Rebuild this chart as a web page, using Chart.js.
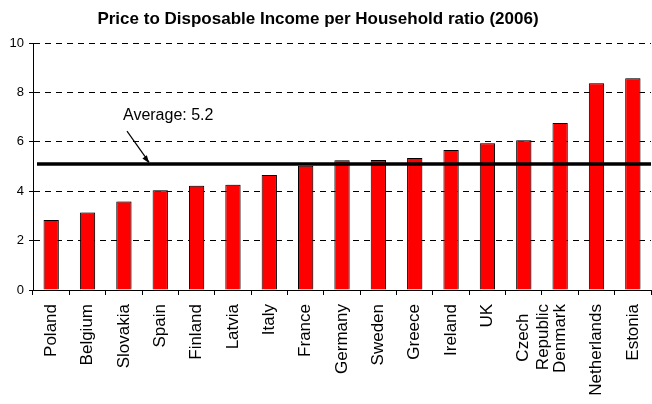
<!DOCTYPE html>
<html lang="en">
  <head>
    <meta charset="UTF-8" />
    <title>Price to Disposable Income per Household ratio (2006)</title>
    <style>
      body {
        margin: 0;
        padding: 0;
        background: #ffffff;
      }
      #ratioChart {
        display: block;
      }
    </style>
    <script src="https://cdn.jsdelivr.net/npm/chart.js"></script>
  </head>
  <body>
    <canvas id="ratioChart" width="652" height="404"></canvas>
    <script>
      // trailing spaces on "Czech" keep it centred against "Republic" once rotated
      const countries = [
        "Poland", "Belgium", "Slovakia", "Spain", "Finland", "Latvia", "Italy",
        "France", "Germany", "Sweden", "Greece", "Ireland", "UK",
        ["Czech  ", "Republic"], "Denmark", "Netherlands", "Estonia",
      ];
      const ratios = [
        2.83, 3.14, 3.58, 4.04, 4.22, 4.26, 4.66, 5.03, 5.25, 5.26, 5.34,
        5.67, 5.94, 6.06, 6.76, 8.37, 8.57,
      ];
      const yTicks = [0, 2, 4, 6, 8, 10];
      const averageLevel = 5.1;
      const averageText = "Average: 5.2";
      const chartTitle = "Price to Disposable Income per Household ratio (2006)";

      const FONT = "'Liberation Sans', Arial, sans-serif";

      // title, average line and its arrow
      const overlay = {
        id: "overlay",
        beforeDatasetsDraw(chart) {
          chart.ctx.save();
          chart.ctx.shadowColor = "rgba(0,0,0,0.2)";
          chart.ctx.shadowOffsetX = 1.5;
          chart.ctx.shadowOffsetY = -1;
        },
        afterDatasetsDraw(chart) {
          chart.ctx.restore();
          const { ctx, chartArea } = chart;
          const y = chart.scales.y.getPixelForValue(averageLevel);
          ctx.save();
          ctx.strokeStyle = "#000";
          ctx.lineWidth = 3.5;
          ctx.beginPath();
          ctx.moveTo(chartArea.left + 4, y);
          ctx.lineTo(chartArea.right, y);
          ctx.stroke();

          // arrow
          const ax = chartArea.left + 116;
          const x0 = ax - 22, y0 = y - 33;
          ctx.lineWidth = 1.2;
          ctx.beginPath();
          ctx.moveTo(x0, y0);
          ctx.lineTo(ax, y - 2);
          ctx.stroke();
          const ang = Math.atan2(y - 2 - y0, ax - x0);
          ctx.beginPath();
          ctx.moveTo(ax, y - 1);
          ctx.lineTo(ax - 8 * Math.cos(ang - 0.35), y - 1 - 8 * Math.sin(ang - 0.35));
          ctx.lineTo(ax - 8 * Math.cos(ang + 0.35), y - 1 - 8 * Math.sin(ang + 0.35));
          ctx.closePath();
          ctx.fillStyle = "#000";
          ctx.fill();

          ctx.font = "16px " + FONT;
          ctx.textAlign = "left";
          ctx.textBaseline = "alphabetic";
          ctx.fillText(averageText, chartArea.left + 90, y - 44);

          ctx.font = "bold 17px " + FONT;
          ctx.textAlign = "center";
          ctx.textBaseline = "middle";
          ctx.fillText(chartTitle, 318, 19);
          ctx.restore();
        },
      };

      const ctx = document.getElementById("ratioChart").getContext("2d");
      const ratioChart = new Chart(ctx, {
        type: "bar",
        data: {
          labels: countries,
          datasets: [
            {
              data: ratios,
              backgroundColor: "#ff0000",
              borderColor: "#000000",
              borderWidth: 1,
              borderSkipped: "bottom",
              barPercentage: 0.42,
              categoryPercentage: 1,
            },
          ],
        },
        options: {
          responsive: false,
          animation: false,
          layout: { padding: { top: 43, right: 1, left: 0, bottom: 0 } },
          plugins: {
            legend: { display: false },
            title: { display: false },
            tooltip: { enabled: false },
          },
          scales: {
            x: {
              offset: true,
              grid: {
                offset: true,
                drawOnChartArea: false,
                drawTicks: true,
                tickLength: 5,
                color: "#000",
              },
              border: { color: "#000", width: 1 },
              ticks: {
                color: "#000",
                font: { family: FONT, size: 17, lineHeight: 1.15 },
                minRotation: 90,
                maxRotation: 90,
                autoSkip: false,
                padding: 9,
              },
              afterFit(axis) {
                axis.height = 114;
                axis.paddingLeft = 0;
                axis.paddingRight = 0;
              },
            },
            y: {
              min: 0,
              max: 10,
              afterBuildTicks(axis) {
                axis.ticks = yTicks.map((v) => ({ value: v }));
              },
              grid: {
                color: "#000",
                lineWidth: 1,
                tickBorderDash: [],
                tickLength: 4,
              },
              border: { color: "#000", width: 1, dash: [6, 5] },
              ticks: {
                color: "#000",
                font: { family: FONT, size: 13 },
                padding: 5,
              },
              afterFit(axis) {
                axis.width = 33;
                axis.paddingTop = 0;
                axis.paddingBottom = 0;
              },
            },
          },
        },
        plugins: [overlay],
      });
    </script>
  </body>
</html>
